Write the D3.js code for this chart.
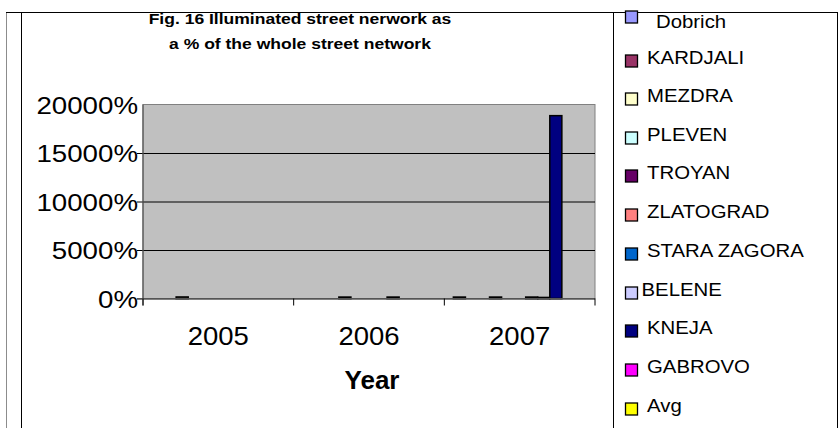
<!DOCTYPE html>
<html>
<head>
<meta charset="utf-8">
<script src="https://cdn.jsdelivr.net/npm/d3@7"></script>
<style>
  html, body { margin: 0; padding: 0; background: #fff; }
  svg { display: block; font-family: "Liberation Sans", Arial, Helvetica, sans-serif; }
</style>
</head>
<body>
<svg id="chart" width="839" height="428"></svg>
<script>
// Years on the category axis
const years = ["2005", "2006", "2007"];

// Towns (series) and their legend colours
const towns = ["Dobrich", "KARDJALI", "MEZDRA", "PLEVEN", "TROYAN", "ZLATOGRAD",
               "STARA ZAGORA", "BELENE", "KNEJA", "GABROVO", "Avg"];
const townColors = ["#9999FF", "#993366", "#FFFFCC", "#CCFFFF", "#660066", "#FF8080",
                    "#0066CC", "#CCCCFF", "#000080", "#FF00FF", "#FFFF00"];

// Illuminated street network, % of whole network, per year (null = no data)
const dobrich     = [null, null, 150];
const kardjali    = [null, null, null];
const mezdra      = [160, null, null];
const pleven      = [null, 150, 150];
const troyan      = [null, null, null];
const zlatograd   = [null, null, null];
const staraZagora = [null, null, 150];
const belene      = [null, 150, 110];
const kneja       = [null, null, 18850];
const gabrovo     = [null, null, null];
const avg         = [null, null, null];
const seriesValues = [dobrich, kardjali, mezdra, pleven, troyan, zlatograd,
                      staraZagora, belene, kneja, gabrovo, avg];

// Value axis ticks
const yTicks = [0, 5000, 10000, 15000, 20000];

const svg = d3.select("#chart");

// Widen text horizontally by a factor, keeping its anchor
function widen(sel, factor) {
  sel.each(function () {
    const w = this.getComputedTextLength();
    d3.select(this).attr("textLength", w * factor).attr("lengthAdjust", "spacingAndGlyphs");
  });
}

// Outer frame lines
const frame = svg.append("g");
frame.append("line").attr("x1", 6.5).attr("x2", 6.5).attr("y1", 12).attr("y2", 428)
  .attr("stroke", "#8c8c8c").attr("stroke-width", 1);
frame.append("line").attr("x1", 21.5).attr("x2", 21.5).attr("y1", 12).attr("y2", 428)
  .attr("stroke", "#000").attr("stroke-width", 1);
frame.append("line").attr("x1", 6).attr("x2", 838).attr("y1", 12.5).attr("y2", 12.5)
  .attr("stroke", "#000").attr("stroke-width", 1);
frame.append("line").attr("x1", 613.5).attr("x2", 613.5).attr("y1", 12).attr("y2", 428)
  .attr("stroke", "#000").attr("stroke-width", 1);
frame.append("line").attr("x1", 837.5).attr("x2", 837.5).attr("y1", 12).attr("y2", 428)
  .attr("stroke", "#000").attr("stroke-width", 1);

// Plot area
const plot = { left: 143, right: 595, top: 104.5, bottom: 298.5 };

const x0 = d3.scaleBand().domain(years).range([plot.left, plot.right]).padding(0);
const x1 = d3.scaleBand().domain(towns).range([0, x0.bandwidth()])
  .paddingInner(0).paddingOuter(0.75);
const y = d3.scaleLinear().domain([0, 20000]).range([plot.bottom, plot.top]);

svg.append("rect")
  .attr("x", plot.left).attr("y", plot.top)
  .attr("width", plot.right - plot.left).attr("height", plot.bottom - plot.top)
  .attr("fill", "#C0C0C0").attr("stroke", "#808080").attr("stroke-width", 1);

// Gridlines with outside tick marks
const yAxis = d3.axisLeft(y).tickValues(yTicks)
  .tickSize(-(plot.right - plot.left)).tickSizeOuter(0)
  .tickFormat(d => d + "%").tickPadding(0);
const yg = svg.append("g").attr("transform", `translate(${plot.left},0)`).call(yAxis);
yg.select(".domain").remove();
yg.selectAll(".tick line")
  .attr("x1", -6).attr("stroke", "#000").attr("stroke-width", 1)
  .filter(d => d === 20000).remove();
yg.selectAll(".tick text")
  .attr("x", -5).attr("dy", "0.36em")
  .attr("font-size", 24.5).attr("fill", "#000")
  .style("font-family", "'Liberation Sans', Arial, sans-serif")
  .call(widen, 1.13);

// Bars
const groups = svg.append("g").selectAll("g")
  .data(years).join("g")
  .attr("transform", d => `translate(${x0(d)},0)`);
groups.selectAll("rect")
  .data((yr, i) => towns.map((t, k) => ({ town: t, color: townColors[k], v: seriesValues[k][i] }))
    .filter(d => d.v !== null))
  .join("rect")
  .attr("x", d => x1(d.town))
  .attr("width", x1.bandwidth())
  .attr("y", d => y(d.v))
  .attr("height", d => y(0) - y(d.v))
  .attr("fill", d => d.color)
  .attr("stroke", "#000").attr("stroke-width", 1.5);

// Value axis line
svg.append("line")
  .attr("x1", plot.left).attr("x2", plot.left)
  .attr("y1", plot.top).attr("y2", plot.bottom + 7)
  .attr("stroke", "#555").attr("stroke-width", 1.2);

// Category axis
const xAxis = d3.axisBottom(x0).tickSize(0).tickSizeOuter(0);
const xg = svg.append("g").attr("transform", `translate(0,${plot.bottom})`).call(xAxis);
xg.select(".domain").attr("stroke", "#555").attr("stroke-width", 1.2)
  .attr("d", `M${plot.left - 6},0H${plot.right}`);
xg.selectAll(".tick text")
  .attr("y", 37.5).attr("dy", "0.36em")
  .attr("font-size", 25).attr("fill", "#000")
  .style("font-family", "'Liberation Sans', Arial, sans-serif")
  .call(widen, 1.1);
// Category separator ticks
const sepTicks = years.map(yr => x0(yr) + x0.bandwidth()).concat([plot.left]);
xg.selectAll("line.sep").data(sepTicks).join("line").attr("class", "sep")
  .attr("x1", d => d).attr("x2", d => d).attr("y1", 0).attr("y2", 7)
  .attr("stroke", "#000").attr("stroke-width", 1);

// Axis title
svg.append("text")
  .attr("x", (x0("2006") + x0.bandwidth() / 2 + 3)).attr("y", 389)
  .attr("text-anchor", "middle")
  .attr("font-size", 26).attr("font-weight", "bold")
  .text("Year");

// Chart title
const title = svg.append("g").attr("font-weight", "bold").attr("font-size", 15.5)
  .attr("text-anchor", "middle");
title.append("text").attr("x", 300).attr("y", 23.5).text("Fig. 16 Illuminated street nerwork as");
title.append("text").attr("x", 300).attr("y", 49).text("a % of the whole street network");
title.selectAll("text").call(widen, 1.13);

// Legend
const legendRows = [21, 57, 95, 134, 172, 211, 250, 289, 327, 366, 405];
const lg = svg.append("g").selectAll("g")
  .data(towns).join("g")
  .attr("transform", (d, i) => `translate(625.5,${legendRows[i]})`);
lg.append("rect")
  .attr("x", 0).attr("y", (d, i) => i === 0 ? -10 : -2)
  .attr("width", 12).attr("height", 12)
  .attr("fill", (d, i) => townColors[i])
  .attr("stroke", "#000").attr("stroke-width", 1.3);
lg.append("text")
  .attr("x", d => d === "BELENE" ? 16 : (d === "Dobrich" ? 30.5 : 21.5))
  .attr("y", 0).attr("dy", "0.36em")
  .attr("font-size", 18.5)
  .text(d => d)
  .call(widen, 1.1);
</script>
</body>
</html>
